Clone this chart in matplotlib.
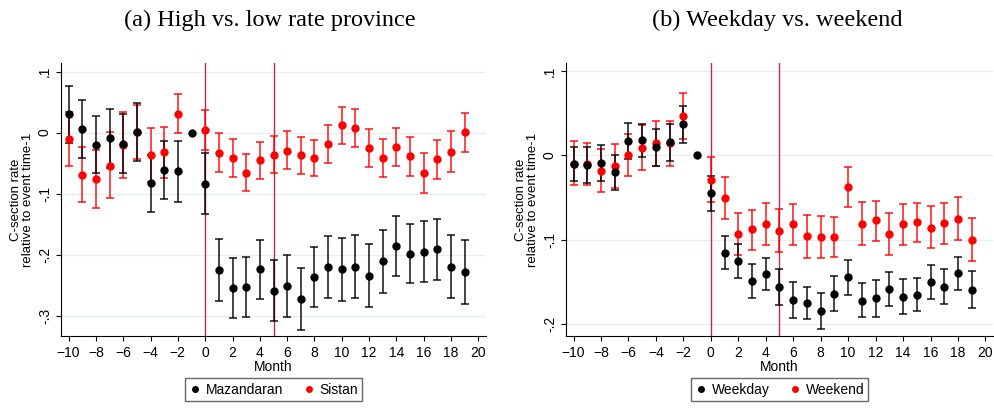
import matplotlib.pyplot as plt
import numpy as np

plt.rcParams["font.family"] = ["Liberation Sans", "DejaVu Sans"]

months = np.arange(-10, 20)

# (a) High vs. low rate province
maz = [0.030, 0.006, -0.020, -0.009, -0.019, 0.001, -0.082, -0.061, -0.063, 0.0,
       -0.084, -0.225, -0.254, -0.253, -0.224, -0.259, -0.251, -0.273, -0.237, -0.220,
       -0.224, -0.220, -0.234, -0.211, -0.185, -0.199, -0.195, -0.191, -0.220, -0.228]
maz_hi = [0.077, 0.054, 0.027, 0.039, 0.030, 0.049, -0.036, -0.013, -0.013, np.nan,
          -0.033, -0.174, -0.205, -0.203, -0.175, -0.208, -0.200, -0.222, -0.187, -0.170,
          -0.173, -0.168, -0.183, -0.160, -0.136, -0.149, -0.145, -0.141, -0.168, -0.176]
maz_lo = [-0.017, -0.042, -0.066, -0.058, -0.066, -0.047, -0.130, -0.108, -0.114, np.nan,
          -0.134, -0.276, -0.304, -0.302, -0.273, -0.309, -0.302, -0.323, -0.286, -0.271,
          -0.275, -0.271, -0.285, -0.262, -0.234, -0.247, -0.244, -0.242, -0.271, -0.280]
sis = [-0.011, -0.069, -0.076, -0.054, -0.021, 0.001, -0.036, -0.032, 0.031, np.nan,
       0.005, -0.033, -0.042, -0.066, -0.045, -0.036, -0.030, -0.037, -0.041, -0.018,
       0.012, 0.008, -0.025, -0.041, -0.024, -0.038, -0.066, -0.044, -0.031, 0.001]
sis_hi = [0.034, -0.024, -0.029, 0.001, 0.034, 0.046, 0.008, 0.010, 0.063, np.nan,
          0.037, -0.001, -0.010, -0.035, -0.015, -0.006, 0.002, -0.007, -0.012, 0.012,
          0.042, 0.039, 0.006, -0.010, 0.007, -0.007, -0.034, -0.012, 0.002, 0.032]
sis_lo = [-0.055, -0.113, -0.124, -0.107, -0.075, -0.043, -0.081, -0.074, -0.001, np.nan,
          -0.028, -0.065, -0.073, -0.096, -0.076, -0.066, -0.060, -0.068, -0.071, -0.049,
          -0.019, -0.023, -0.056, -0.073, -0.055, -0.071, -0.099, -0.076, -0.065, -0.031]

# (b) Weekday vs. weekend
wkd = [-0.010, -0.011, -0.009, -0.020, 0.017, 0.018, 0.010, 0.016, 0.037, 0.0,
       -0.045, -0.116, -0.125, -0.149, -0.141, -0.157, -0.172, -0.176, -0.185, -0.165,
       -0.145, -0.173, -0.170, -0.159, -0.168, -0.166, -0.151, -0.156, -0.140, -0.160]
wkd_hi = [0.010, 0.010, 0.012, 0.001, 0.039, 0.038, 0.031, 0.037, 0.059, np.nan,
          -0.024, -0.096, -0.105, -0.129, -0.122, -0.135, -0.151, -0.157, -0.164, -0.143,
          -0.124, -0.152, -0.148, -0.139, -0.147, -0.146, -0.130, -0.135, -0.121, -0.138]
wkd_lo = [-0.030, -0.033, -0.030, -0.041, -0.004, -0.002, -0.012, -0.006, 0.015, np.nan,
          -0.066, -0.135, -0.146, -0.169, -0.160, -0.178, -0.193, -0.195, -0.206, -0.185,
          -0.166, -0.192, -0.192, -0.179, -0.189, -0.185, -0.171, -0.177, -0.160, -0.181]
wke = [-0.010, -0.010, -0.018, -0.013, 0.001, 0.009, 0.015, 0.015, 0.047, np.nan,
       -0.029, -0.051, -0.093, -0.088, -0.081, -0.090, -0.082, -0.096, -0.097, -0.097,
       -0.037, -0.081, -0.077, -0.093, -0.082, -0.079, -0.086, -0.080, -0.076, -0.100]
wke_hi = [0.017, 0.015, 0.008, 0.014, 0.026, 0.036, 0.041, 0.041, 0.074, np.nan,
          -0.002, -0.026, -0.068, -0.065, -0.057, -0.064, -0.058, -0.071, -0.072, -0.073,
          -0.014, -0.055, -0.054, -0.068, -0.058, -0.056, -0.060, -0.056, -0.050, -0.074]
wke_lo = [-0.035, -0.035, -0.044, -0.039, -0.025, -0.017, -0.012, -0.012, 0.020, np.nan,
          -0.055, -0.076, -0.118, -0.112, -0.106, -0.115, -0.106, -0.122, -0.122, -0.121,
          -0.061, -0.106, -0.102, -0.118, -0.107, -0.103, -0.110, -0.105, -0.101, -0.125]

VLINE = "#B8295A"
GRID = "#E6EEF0"


def draw(ax, black, black_hi, black_lo, red, red_hi, red_lo, names, yticks, ylabels, ylim):
    for y, hi, lo, col, z in [(red, red_hi, red_lo, "#FF0000", 3), (black, black_hi, black_lo, "black", 4)]:
        y = np.array(y)
        hi = np.array(hi)
        lo = np.array(lo)
        yerr = np.vstack([y - lo, hi - y])
        ax.errorbar(months, y, yerr=yerr, fmt="none", ecolor=col, elinewidth=1.2,
                    capsize=3, capthick=1.2, alpha=0.85, zorder=z)
        ax.plot(months, y, "o", color=col, ms=5, zorder=z + 2)
    ax.axvline(0, color=VLINE, lw=1, zorder=2)
    ax.axvline(5, color=VLINE, lw=1, zorder=2)
    ax.set_xlim(-10.55, 20.55)
    ax.set_ylim(*ylim)
    ax.set_xticks(np.arange(-10, 21, 2))
    ax.set_yticks(yticks)
    ax.set_yticklabels(ylabels, rotation=90, va="center")
    ax.tick_params(labelsize=10, length=3.5, width=0.8, colors="black")
    ax.tick_params(axis="y", pad=3)
    ax.grid(axis="y", color=GRID, lw=1)
    ax.set_axisbelow(True)
    for s in ["top", "right"]:
        ax.spines[s].set_visible(False)
    ax.set_xlabel("Month", fontsize=10, labelpad=0)
    ax.set_ylabel("C-section rate\nrelative to event time-1", fontsize=9.5, linespacing=1.0)
    ax.yaxis.set_label_coords(-0.064, 0.5)
    h1 = ax.plot([], [], "o", color="black", ms=4)[0]
    h2 = ax.plot([], [], "o", color="#FF0000", ms=4)[0]
    ax.legend([h1, h2], names, loc="upper center", bbox_to_anchor=(0.5, -0.13), ncol=2,
              fontsize=10, frameon=True, fancybox=False, edgecolor="#444444",
              handletextpad=0.3, columnspacing=1.4, borderpad=0.3, handlelength=0.9)


fig = plt.figure(figsize=(9.94, 4.16), dpi=100)
ax1 = fig.add_axes([61 / 994, 1 - 336 / 416, 425 / 994, 273 / 416])
ax2 = fig.add_axes([566 / 994, 1 - 336 / 416, 427 / 994, 273 / 416])

draw(ax1, maz, maz_hi, maz_lo, sis, sis_hi, sis_lo, ["Mazandaran", "Sistan"],
     [0.1, 0, -0.1, -0.2, -0.3], [".1", "0", "-.1", "-.2", "-.3"], (-0.333, 0.114))
draw(ax2, wkd, wkd_hi, wkd_lo, wke, wke_hi, wke_lo, ["Weekday", "Weekend"],
     [0.1, 0, -0.1, -0.2], [".1", "0", "-.1", "-.2"], (-0.2148, 0.110))

fig.text(270 / 994, 1 - 20 / 416, "(a) High vs. low rate province", ha="center", va="center",
         family="Liberation Serif", fontsize=17.5)
fig.text(777 / 994, 1 - 20 / 416, "(b) Weekday vs. weekend", ha="center", va="center",
         family="Liberation Serif", fontsize=17.5)

fig.savefig("out.png", dpi=100)
